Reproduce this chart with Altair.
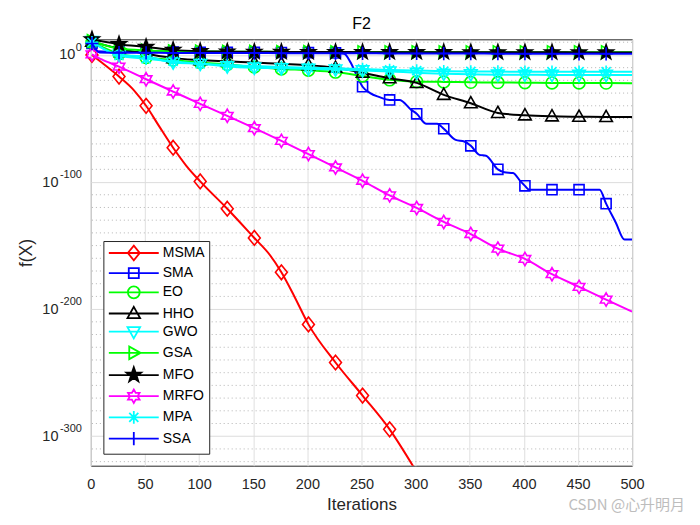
import math
import altair as alt
import pandas as pd

# ---------------- data (log10 of best fitness) ----------------
ALGOS = ["MSMA", "SMA", "EO", "HHO", "GWO", "GSA", "MFO", "MRFO", "MPA", "SSA"]
COLORS = ["#FF0000", "#0000FF", "#00FF00", "#000000", "#00FFFF",
          "#00FF00", "#000000", "#FF00FF", "#00FFFF", "#0000FF"]

G = [1, 26, 51, 76, 101, 126, 151, 176, 201, 226, 251, 276, 301, 326, 351, 376, 401, 426, 451, 476, 500]
MARKER_ITS = [1, 26, 51, 76, 101, 126, 151, 176, 201, 226, 251, 276, 301, 326, 351, 376, 401, 426, 451, 476]

msma_it = [1, 10, 26, 40, 51, 63, 76, 88, 101, 126, 151, 165, 176, 188, 201, 226, 251, 276, 298]
msma_val = [0, -6, -17, -28, -40, -56, -73, -87, -99.5, -121, -144, -157, -171, -190, -212, -242, -268, -294.6, -324]

sma_it = [1, 6, 26, 51, 76, 101, 126, 151, 176, 201, 226, 234, 240, 245, 251, 258, 266, 276, 285, 296,
          301, 310, 320, 326, 337, 345, 351, 359, 365, 376, 382, 390, 397, 401, 405, 426, 451, 470, 476, 485,
          493, 500]
sma_val = [9, 3, 2.4, 2.3, 2.2, 2.1, 2.0, 2.0, 1.9, 1.8, 1.6, 1.0, -6, -15, -25, -30, -33, -35.4, -35.4, -43.2,
           -46.3, -54.2, -54.2, -58.1, -66.8, -68.1, -71.5, -78.6, -79.3, -90, -92.3, -92.9, -99.5, -103, -106,
           -106, -106, -106, -117, -132, -145.3, -145.3]

eo_it = G
eo_val = [10, 1, -2, -4, -6, -7.5, -9.5, -11, -12, -13.5, -16.5, -19.6, -21, -21.2, -21.5, -21.7, -21.8, -22,
          -22, -22.1, -22.2]

hho_it = G
hho_val = [10.5, 5, 1, -2.5, -4, -5, -6, -7, -8, -10, -14, -18.3, -22, -31.4, -38, -45.6, -47.5, -48.3, -48.6,
           -48.8, -48.8]

gwo_it = G
gwo_val = [11, 0, -1.3, -6, -7, -9, -10, -10.5, -11, -11.5, -12.2, -13, -14, -14.8, -15.2, -15.5, -15.6, -15.7,
           -15.7, -15.7, -15.7]

gsa_it = G
gsa_val = [11, 5, 3.5, 3, 2.8, 2.6, 2.5, 2.4, 2.4, 2.3, 2.3, 2.3, 2.3, 2.2, 2.2, 2.2, 2.2, 2.2, 2.2, 2.2, 2.2]

mfo_it = G
mfo_val = [12.3, 8.5, 6.3, 4, 3, 2.7, 2.5, 2.4, 2.3, 2.3, 2.2, 2.2, 2.2, 2.2, 2.1, 2.1, 2.1, 2.1, 2.0, 2.0, 2.0]

mrfo_it = [1, 10] + G[1:]
mrfo_val = [0.5, -3.5, -9.2, -19.1, -28.8, -38.5, -47.9, -57.6, -67.6, -78, -88.5, -99, -110.5, -120.4,
            -131.4, -140.9, -152.4, -160.5, -172.5, -182.5, -192.5, -202]

mpa_it = G
mpa_val = [10, -0.5, -3, -5, -7, -8, -8.8, -9.5, -10, -10.5, -11, -11.8, -12.3, -12.8, -13, -13.1, -13.2,
           -13.2, -13.2, -13.2, -13.2]

ssa_it = [1, 8] + G[1:]
ssa_val = [9, 2, 1.8, 1.7, 1.6, 1.6, 1.5, 1.5, 1.4, 1.4, 1.3, 1.3, 1.2, 1.2, 1.1, 1.1, 1.0, 1.0, 1.0, 0.9,
           0.9, 0.9]

SERIES = {
    "MSMA": (msma_it, msma_val), "SMA": (sma_it, sma_val), "EO": (eo_it, eo_val),
    "HHO": (hho_it, hho_val), "GWO": (gwo_it, gwo_val), "GSA": (gsa_it, gsa_val),
    "MFO": (mfo_it, mfo_val), "MRFO": (mrfo_it, mrfo_val), "MPA": (mpa_it, mpa_val),
    "SSA": (ssa_it, ssa_val),
}

TITLE = "F2"
X_TICKS = [0, 50, 100, 150, 200, 250, 300, 350, 400, 450, 500]
Y_TICK_VALUES = [0, -100, -200, -300]
Y_TICK_BASE = "10"
Y_TICK_EXP = ["0", "-100", "-200", "-300"]
Y_MINOR = [v for v in range(-320, 11, 10) if v not in Y_TICK_VALUES]
Y_DOMAIN = [-323.2, 12.3]
WATERMARK = "CSDN @心升明月"

# ---------------- marker shapes (unit = sqrt(size)/2 px) ----------------
def poly(pts, dx=0.0):
    return "M" + "L".join(f"{x + dx:.3f},{y:.3f}" for x, y in pts) + "Z"

def segs(lines, dx=0.0):
    return "".join(f"M{a + dx:.3f},{b:.3f}L{c + dx:.3f},{d:.3f}" for a, b, c, d in lines)

def circ(r, dx=0.0):
    return (f"M{r + dx:.3f},0A{r},{r},0,1,1,{-r + dx:.3f},0"
            f"A{r},{r},0,1,1,{r + dx:.3f},0Z")

def star_pts(n, ro, ri):
    pts = []
    for k in range(2 * n):
        a = math.radians(-90 + k * 180 / n)
        r = ro if k % 2 == 0 else ri
        pts.append((r * math.cos(a), r * math.sin(a)))
    return pts

def marker(name, dx=0.0):
    if name == "MSMA":
        return poly([(0, -1.05), (0.85, 0), (0, 1.05), (-0.85, 0)], dx)
    if name == "SMA":
        return poly([(-0.72, -0.72), (0.72, -0.72), (0.72, 0.72), (-0.72, 0.72)], dx)
    if name == "EO":
        return circ(0.85, dx)
    if name == "HHO":
        return poly([(0, -0.95), (0.9, 0.65), (-0.9, 0.65)], dx)
    if name == "GWO":
        return poly([(0, 0.95), (0.9, -0.65), (-0.9, -0.65)], dx)
    if name == "GSA":
        return poly([(0.95, 0), (-0.65, 0.9), (-0.65, -0.9)], dx)
    if name == "MFO":
        return poly(star_pts(5, 1.1, 0.44), dx)
    if name == "MRFO":
        return poly(star_pts(6, 0.95, 0.55), dx)
    if name == "MPA":
        return segs([(-0.9, 0, 0.9, 0), (0, -0.9, 0, 0.9), (-0.65, -0.65, 0.65, 0.65),
                     (-0.65, 0.65, 0.65, -0.65)], dx)
    return segs([(-0.95, 0, 0.95, 0), (0, -0.95, 0, 0.95)], dx)

LEG_LINE = (-0.93, 6.21)
LEG_DX = 2.64
LEG_PATHS = [f"M{LEG_LINE[0]},0L{LEG_LINE[1]},0" + marker(a, LEG_DX) for a in ALGOS]
LEG_FILL = ["black" if a == "MFO" else "transparent" for a in ALGOS]

# ---------------- table ----------------
rows = []
for a in ALGOS:
    its, vals = SERIES[a]
    for i, v in zip(its, vals):
        rows.append({"algo": a, "it": i, "val": v, "mk": i in MARKER_ITS and v >= Y_DOMAIN[0]})
df = pd.DataFrame(rows)

FONT = "Liberation Sans"
y_scale = alt.Scale(domain=Y_DOMAIN, nice=False, zero=False)

x_enc = alt.X("it:Q", scale=alt.Scale(domain=[0, 500], nice=False, zero=False),
              axis=alt.Axis(values=X_TICKS, format="d", grid=True, gridColor="#dfdfdf", gridWidth=1,
                            domain=False, ticks=False, labelFlush=False, labelOverlap=False,
                            labelFontSize=14.5, labelColor="#262626", labelPadding=12, labelFont=FONT,
                            title="Iterations", titleFontSize=17, titleFontWeight="normal",
                            titleColor="#262626", titlePadding=5, titleFont=FONT))
y_enc = alt.Y("val:Q", scale=y_scale,
              axis=alt.Axis(values=Y_TICK_VALUES, labelExpr=f"'{Y_TICK_BASE}'", grid=True,
                            gridColor="#dcdcdc", gridWidth=1, domain=False, ticks=False,
                            labelOverlap=False, labelFontSize=14.5, labelColor="#262626", labelFont=FONT,
                            labelPadding={"condition": {"test": "datum.value === 0", "value": 16},
                                          "value": 33},
                            title="f(X)", titleFontSize=17.5, titleFontWeight="normal",
                            titleColor="#262626", titleFont=FONT, titleX=-55))

# minor (dotted) grid lines every 10 decades
minor_layer = alt.Chart(pd.DataFrame({"val": Y_MINOR})).mark_rule(
    color="#b4b4b4", strokeWidth=1, strokeDash=[1, 3]
).encode(y=y_enc)

base = alt.Chart(df)
layers = [minor_layer]
for a, c in zip(ALGOS, COLORS):
    layers.append(base.transform_filter(alt.datum.algo == a)
                  .mark_line(color=c, strokeWidth=2, interpolate="monotone", clip=True)
                  .encode(x=x_enc, y=y_enc))
    filled = a == "MFO"
    layers.append(base.transform_filter((alt.datum.algo == a) & alt.datum.mk)
                  .mark_point(shape=marker(a), size=196, stroke=c, strokeWidth=1.6,
                              fill=c if filled else "transparent", filled=filled, opacity=1)
                  .encode(x=x_enc, y=y_enc))

leg_df = pd.DataFrame({"algo": ALGOS, "it": [-100] * len(ALGOS), "val": [0] * len(ALGOS)})
legend_layer = alt.Chart(leg_df).mark_point(size=196, strokeWidth=1.8, clip=True, opacity=1).encode(
    x=x_enc, y=y_enc,
    color=alt.Color("algo:N", scale=alt.Scale(domain=ALGOS, range=COLORS), legend=alt.Legend(title=None)),
    shape=alt.Shape("algo:N", scale=alt.Scale(domain=ALGOS, range=LEG_PATHS), legend=alt.Legend(title=None)),
    fill=alt.Fill("algo:N", scale=alt.Scale(domain=ALGOS, range=LEG_FILL), legend=alt.Legend(title=None)),
)

# exponents of the y tick labels (10^k), placed at the tick values
exp_df = pd.DataFrame({"val": Y_TICK_VALUES, "e": Y_TICK_EXP})
exp_layer = alt.Chart(exp_df).mark_text(
    align="right", baseline="middle", fontSize=11, font=FONT, color="#262626", dy=-7
).encode(text="e:N", x=alt.value(-9), y=alt.Y("val:Q", scale=y_scale))

title_layer = alt.Chart(pd.DataFrame({"t": [TITLE]})).mark_text(
    align="center", baseline="middle", fontSize=16, font=FONT, color="#000000"
).encode(text="t:N", x=alt.value(271), y=alt.value(-15))

wm = alt.Chart(pd.DataFrame({"t": [WATERMARK]})).mark_text(
    align="right", baseline="middle", fontSize=15, color="#bdbdbd", font="Noto Sans CJK SC"
).encode(text="t:N", x=alt.value(595), y=alt.value(466))

chart = alt.layer(*layers, legend_layer, exp_layer, title_layer, wm).properties(
    width=542, height=427,
    autosize=alt.AutoSizeParams(type="none"),
    padding={"left": 83, "top": 31, "right": 60, "bottom": 47},
).configure_view(stroke="#262626", strokeWidth=1).configure_legend(
    orient="none", legendX=12.5, legendY=202, strokeColor="#262626", fillColor="white",
    padding=4, symbolSize=196, symbolStrokeWidth=1.8, labelFontSize=14, labelFont=FONT,
    labelColor="#000000", labelOffset=39.5, rowPadding=0.2, cornerRadius=0, symbolOffset=0,
)

chart.save("out.html", embed_options={"renderer": "svg", "actions": False})
